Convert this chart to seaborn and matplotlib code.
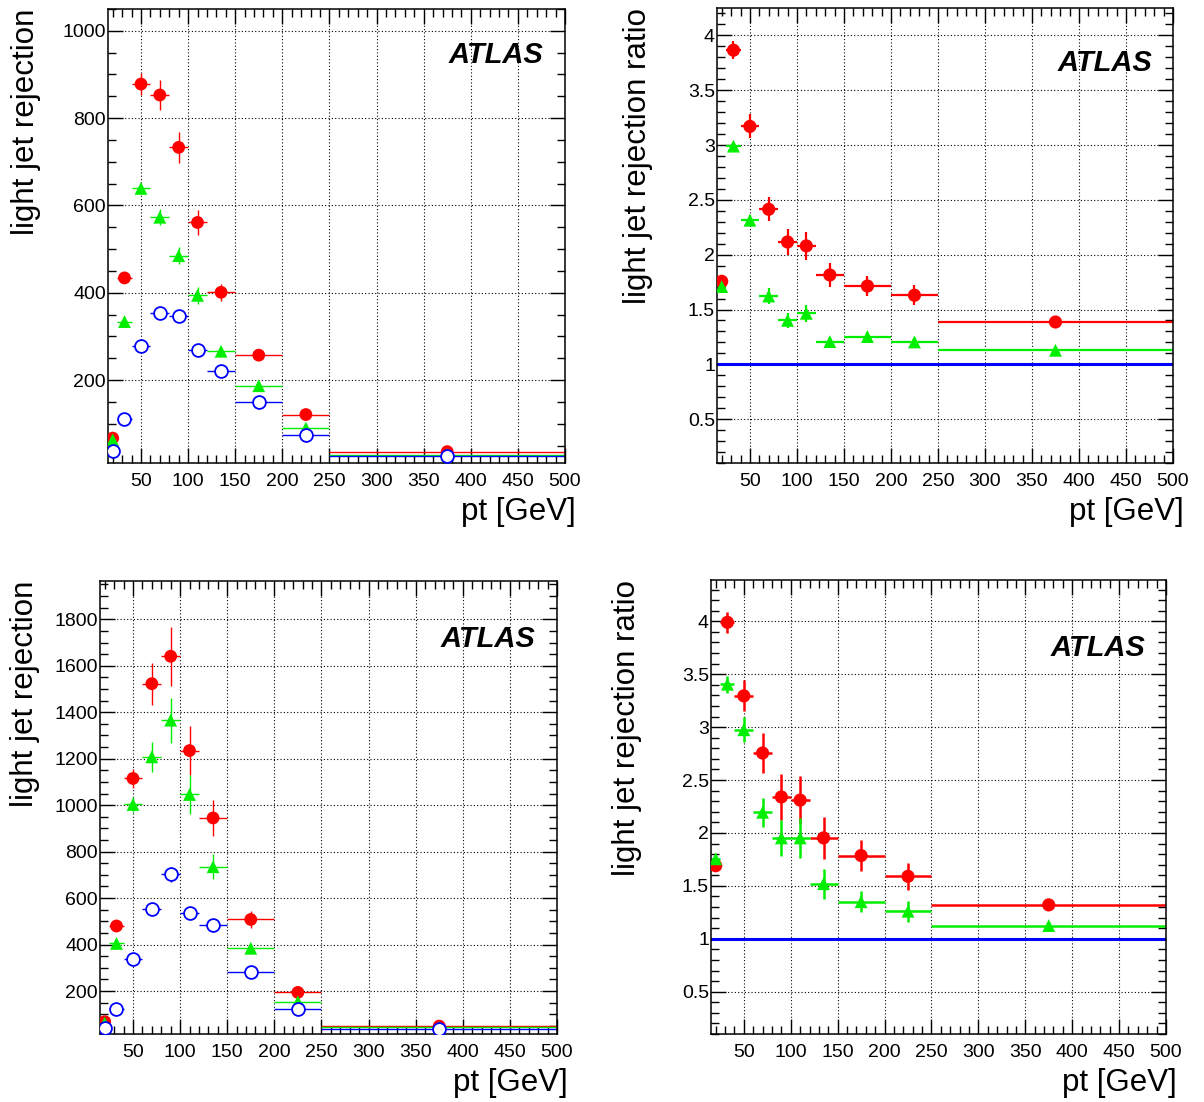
import numpy as np
import pandas as pd
import matplotlib
matplotlib.use("Agg")
import matplotlib.pyplot as plt
from matplotlib.ticker import MultipleLocator, FormatStrFormatter
import seaborn as sns

# ---------------- data ----------------
pt_centers = [20, 32.5, 50, 70, 90, 110, 135, 175, 225, 375]
pt_halfwidth = [5, 7.5, 10, 10, 10, 10, 15, 25, 25, 125]

# top-left: light jet rejection
tl_red = [67, 434, 878, 853, 733, 561, 401, 257, 121, 36]
tl_red_err = [4, 10, 26, 34, 35, 29, 20, 6, 5, 2]
tl_green = [63, 334, 639, 573, 485, 394, 266, 187, 90, 29]
tl_green_err = [3, 6, 6, 18, 19, 19, 10, 5, 3, 1]
tl_blue = [38, 111, 277, 354, 347, 269, 221, 150, 73, 26]
tl_blue_err = [2, 4, 6, 8, 8, 6, 5, 4, 2, 1]

# top-right: light jet rejection ratio
tr_red = [1.757, 3.865, 3.17, 2.414, 2.116, 2.08, 1.815, 1.714, 1.63, 1.386]
tr_red_err = [0.03, 0.08, 0.11, 0.11, 0.12, 0.13, 0.107, 0.09, 0.09, 0.02]
tr_green = [1.709, 2.99, 2.314, 1.623, 1.401, 1.465, 1.207, 1.253, 1.204, 1.128]
tr_green_err = [0.02, 0.03, 0.05, 0.07, 0.07, 0.08, 0.04, 0.04, 0.04, 0.01]

# bottom-left: light jet rejection
bl_red = [68, 480, 1115, 1523, 1641, 1235, 945, 508, 194, 49]
bl_red_err = [5, 15, 41, 91, 128, 106, 77, 36, 15, 3]
bl_green = [62, 405, 1003, 1208, 1366, 1046, 735, 384, 154, 43]
bl_green_err = [4, 12, 32, 65, 97, 82, 54, 20, 8, 2]
bl_blue = [42, 121, 340, 554, 702, 537, 484, 283, 121, 35]
bl_blue_err = [3, 8, 15, 22, 33, 20, 18, 10, 5, 2]

# bottom-right: light jet rejection ratio
br_red = [1.69, 3.99, 3.295, 2.755, 2.34, 2.31, 1.953, 1.786, 1.59, 1.32]
br_red_err = [0.03, 0.1, 0.146, 0.19, 0.217, 0.23, 0.196, 0.15, 0.13, 0.02]
br_green = [1.755, 3.405, 2.975, 2.195, 1.953, 1.953, 1.52, 1.35, 1.26, 1.125]
br_green_err = [0.03, 0.08, 0.12, 0.137, 0.17, 0.187, 0.14, 0.1, 0.1, 0.01]

baseline_ratio = 1.0

x_label = "pt [GeV]"
y_label_rej = "light jet rejection"
y_label_ratio = "light jet rejection ratio"
atlas_text = "ATLAS"

RED = "#ff0000"
GREEN = "#00ee00"
BLUE = "#0000ff"

# ---------------- style ----------------
sns.set_style("ticks")
plt.rcParams["font.family"] = ["Liberation Sans", "DejaVu Sans"]
plt.rcParams["axes.linewidth"] = 1.1
for key in ["text.color", "axes.labelcolor", "xtick.color", "ytick.color",
            "axes.edgecolor"]:
    plt.rcParams[key] = "black"

fig = plt.figure(figsize=(12.04, 11.02), dpi=100)

W, H = 1204.0, 1102.0
def box(l, r, t, b):
    return [l / W, (H - b) / H, (r - l) / W, (b - t) / H]

ax_tl = fig.add_axes(box(108, 565, 9, 463))
ax_tr = fig.add_axes(box(717, 1173, 8, 463))
ax_bl = fig.add_axes(box(100, 557, 581, 1034))
ax_br = fig.add_axes(box(711, 1166, 580, 1034))


def series(ax, y, yerr, color, marker, hollow=False, lw=1.0, s=60):
    ax.errorbar(pt_centers, y, xerr=pt_halfwidth, yerr=yerr, fmt="none",
                ecolor=color, elinewidth=lw, capsize=0, zorder=2)
    df = pd.DataFrame({"pt": pt_centers, "val": y})
    if hollow:
        sns.scatterplot(data=df, x="pt", y="val", ax=ax, marker=marker, s=s,
                        facecolor="white", edgecolor=color, linewidth=1.3,
                        zorder=3, legend=False)
    else:
        sns.scatterplot(data=df, x="pt", y="val", ax=ax, marker=marker, s=s,
                        color=color, edgecolor="none", linewidth=0,
                        zorder=3, legend=False)


def frame(ax, ylim, ymajor, yminor, ylabel, ylab_x, atlas_xy, fmt=None):
    ax.set_xlim(15, 500)
    ax.set_ylim(*ylim)
    ax.xaxis.set_major_locator(MultipleLocator(50))
    ax.xaxis.set_minor_locator(MultipleLocator(10))
    ax.yaxis.set_major_locator(MultipleLocator(ymajor))
    ax.yaxis.set_minor_locator(MultipleLocator(yminor))
    if fmt:
        ax.yaxis.set_major_formatter(FormatStrFormatter(fmt))
    ax.tick_params(which="both", direction="in", top=True, right=True,
                   labelsize=14, colors="black")
    ax.tick_params(which="major", length=11, width=1.0)
    ax.tick_params(which="minor", length=5.5, width=1.0)
    ax.tick_params(axis="x", which="major", pad=7)
    ax.tick_params(axis="y", which="major", pad=1.5)
    ax.grid(True, which="major", color="black", linestyle=(0, (1, 2)),
            linewidth=0.8)
    ax.set_axisbelow(True)
    for sp in ax.spines.values():
        sp.set_color("black")
    ax.set_xlabel(x_label, fontsize=22.5, loc="right", color="black")
    ax.xaxis.set_label_coords(1.024, -0.074)
    ax.set_ylabel(ylabel, fontsize=22.5, loc="top", color="black")
    ax.yaxis.set_label_coords(ylab_x, 1.0)
    ax.text(atlas_xy[0], atlas_xy[1], atlas_text, transform=ax.transAxes,
            ha="right", va="center", fontsize=21, fontweight="bold",
            fontstyle="italic", color="black")


# top-left
series(ax_tl, tl_red, tl_red_err, RED, "o", lw=1.0, s=85)
series(ax_tl, tl_green, tl_green_err, GREEN, "^", lw=1.0, s=85)
series(ax_tl, tl_blue, tl_blue_err, BLUE, "o", hollow=True, lw=1.0, s=85)
frame(ax_tl, (10, 1050), 200, 50, y_label_rej, -0.147, (0.952, 0.899))

# top-right
ax_tr.axhline(baseline_ratio, color=BLUE, linewidth=2.2, zorder=2)
series(ax_tr, tr_red, tr_red_err, RED, "o", lw=1.6, s=90)
series(ax_tr, tr_green, tr_green_err, GREEN, "^", lw=1.6, s=85)
frame(ax_tr, (0.1, 4.25), 0.5, 0.1, y_label_ratio, -0.14, (0.954, 0.879),
      fmt="%g")

# bottom-left
series(ax_bl, bl_red, bl_red_err, RED, "o", lw=1.0, s=85)
series(ax_bl, bl_green, bl_green_err, GREEN, "^", lw=1.0, s=85)
series(ax_bl, bl_blue, bl_blue_err, BLUE, "o", hollow=True, lw=1.0, s=85)
frame(ax_bl, (15, 1965), 200, 50, y_label_rej, -0.131, (0.952, 0.873))

# bottom-right
ax_br.axhline(baseline_ratio, color=BLUE, linewidth=2.2, zorder=2)
series(ax_br, br_red, br_red_err, RED, "o", lw=1.8, s=90)
series(ax_br, br_green, br_green_err, GREEN, "^", lw=1.8, s=85)
frame(ax_br, (0.1, 4.39), 0.5, 0.1, y_label_ratio, -0.152, (0.954, 0.85),
      fmt="%g")

fig.savefig("out.png", dpi=100, facecolor="white")
